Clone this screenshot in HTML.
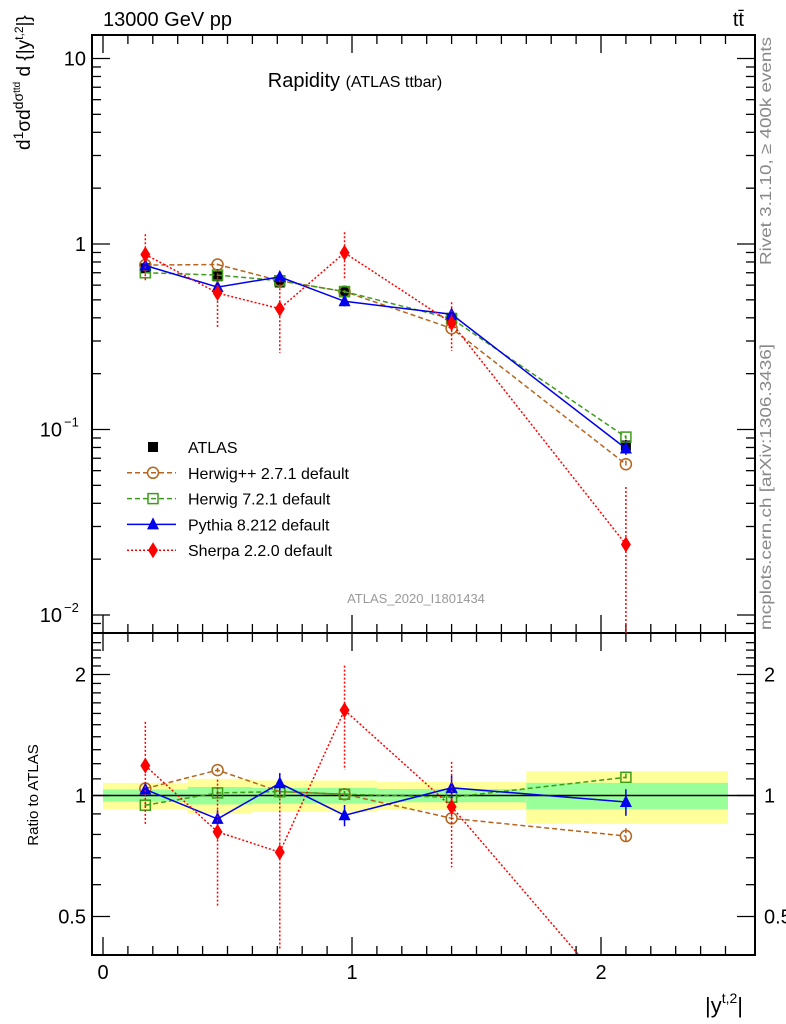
<!DOCTYPE html>
<html><head><meta charset="utf-8"><style>
html,body{margin:0;background:#fff;width:786px;height:1024px;overflow:hidden;}
svg{font-family:"Liberation Sans",sans-serif;display:block;}
</style></head><body>
<svg id="c" width="786" height="1024" xmlns="http://www.w3.org/2000/svg"></svg>
<script>
const xCenters=[0.17,0.46,0.71,0.97,1.4,2.1];
const binEdges=[0,0.34,0.6,0.84,1.1,1.7,2.51];
const atlas=[0.74,0.67,0.62,0.55,0.40,0.082];
const atlasErr=[0.03,0.03,0.03,0.03,0.02,0.006];
const totRelErr=[0.075,0.10,0.09,0.09,0.08,0.15];
const statRelErr=[0.035,0.05,0.045,0.045,0.038,0.075];
const herwigpp=[0.77,0.775,0.634,0.554,0.351,0.065];
const herwigppErr=[0.01,0.01,0.01,0.01,0.01,0.003];
const herwig7=[0.70,0.68,0.634,0.554,0.396,0.091];
const herwig7Err=[0.01,0.01,0.01,0.01,0.01,0.002];
const pythia=[0.766,0.586,0.665,0.491,0.418,0.079];
const pythiaErr=[0.03,0.03,0.04,0.03,0.03,0.006];
const sherpa=[0.878,0.544,0.448,0.897,0.375,0.024];
const sherpaErr=[0.25,0.19,0.19,0.26,0.11,0.025];
const yTickVals=[10,1,0.1,0.01];
const yTickLabels=["10","1","10","10"];
const yTickExp=["","","\u22121","\u22122"];
const rTickVals=[2,1,0.5];
const rTickLabels=["2","1","0.5"];
const xTickVals=[0,1,2];

const svg=document.getElementById('c');
const NS='http://www.w3.org/2000/svg';
const L=92,R=755,T=35,M=633,B=955;
const X=v=>103+v*249;
const Y=v=>244-Math.log10(v)*185.5;
const RY=v=>795.5-Math.log10(v)*402;
function el(tag,attrs,parent){const e=document.createElementNS(NS,tag);for(const k in attrs)e.setAttribute(k,attrs[k]);(parent||svg).appendChild(e);return e;}
function txt(s,attrs,parent){const e=el('text',attrs,parent);e.textContent=s;return e;}

const defs=el('defs',{});
const c1=el('clipPath',{id:'cm'},defs);el('rect',{x:L,y:T,width:R-L,height:M-T},c1);
const c2=el('clipPath',{id:'cr'},defs);el('rect',{x:L,y:M,width:R-L,height:B-M},c2);

const gBand=el('g',{'clip-path':'url(#cr)'});


for(let i=0;i<xCenters.length;i++){
  const x0=X(binEdges[i]),x1=X(binEdges[i+1]);
  const y=el('rect',{x:x0,y:RY(1+totRelErr[i]),width:x1-x0,height:RY(1-totRelErr[i])-RY(1+totRelErr[i]),fill:'#ffff99'},gBand);
  
  
  const g=el('rect',{x:x0,y:RY(1+statRelErr[i]),width:x1-x0,height:RY(1-statRelErr[i])-RY(1+statRelErr[i]),fill:'#99ff99'},gBand);
  
  
}
el('line',{x1:L,x2:R,y1:RY(1),y2:RY(1),stroke:'#000','stroke-width':1.5},gBand);

const fr=el('rect',{x:L,y:T,width:R-L,height:M-T,fill:'none',stroke:'#000','stroke-width':2});

const fr2=el('rect',{x:L,y:M,width:R-L,height:B-M,fill:'none',stroke:'#000','stroke-width':2});


for(let d=-3;d<=1;d++){for(let m=1;m<10;m++){const v=m*Math.pow(10,d);const y=Y(v);if(y<T||y>M)continue;const len=m==1?18:9;
 el('line',{x1:L,x2:L+len,y1:y,y2:y,stroke:'#000','stroke-width':1.3});el('line',{x1:R,x2:R-len,y1:y,y2:y,stroke:'#000','stroke-width':1.3});}}
yTickVals.forEach((v,i)=>{
  const t=txt(yTickLabels[i],{x:yTickExp[i]?62:86,y:Y(v)+7,'font-size':20,'text-anchor':'end'});
  
  if(yTickExp[i]){txt(yTickExp[i],{x:64,y:Y(v)-3,'font-size':13});}
});
for(let v=0.4;v<=2.5;v+=0.1){const y=RY(v);if(y<M||y>B)continue;const major=Math.abs(v-0.5)<1e-6||Math.abs(v-1)<1e-6||Math.abs(v-2)<1e-6;const len=major?18:9;
 el('line',{x1:L,x2:L+len,y1:y,y2:y,stroke:'#000','stroke-width':1.3});el('line',{x1:R,x2:R-len,y1:y,y2:y,stroke:'#000','stroke-width':1.3});}
rTickVals.forEach((v,i)=>{
  const a=txt(rTickLabels[i],{x:86,y:RY(v)+7,'font-size':20,'text-anchor':'end'});
  
  const b=txt(rTickLabels[i],{x:764,y:RY(v)+7,'font-size':20});
  
});
for(let v=0;v<=2.6;v+=0.1){const x=X(v);if(x<L||x>R)continue;const major=Math.abs(v-Math.round(v))<1e-6;const len=major?18:9;
 [T,M].forEach(yy=>el('line',{x1:x,x2:x,y1:yy,y2:yy+len,stroke:'#000','stroke-width':1.3}));
 [M,B].forEach(yy=>el('line',{x1:x,x2:x,y1:yy,y2:yy-len,stroke:'#000','stroke-width':1.3}));}
xTickVals.forEach(v=>{const t=txt(String(v),{x:X(v),y:979,'font-size':20,'text-anchor':'middle'});});

function marker(type,x,y,col,g){
  if(type=='sq')el('rect',{x:x-5,y:y-5,width:10,height:10,fill:'#000'},g);
  else if(type=='circ')el('circle',{cx:x,cy:y,r:5.5,fill:'none',stroke:col,'stroke-width':1.5},g);
  else if(type=='osq')el('rect',{x:x-5,y:y-5,width:10,height:10,fill:'none',stroke:col,'stroke-width':1.5},g);
  else if(type=='tri')el('polygon',{points:`${x},${y-7} ${x-6},${y+5} ${x+6},${y+5}`,fill:col},g);
  else if(type=='dia')el('polygon',{points:`${x},${y-8} ${x-5},${y} ${x},${y+8} ${x+5},${y}`,fill:col},g);
}
const series=[
 {name:'herwigpp',vals:herwigpp,err:herwigppErr,col:'#b5651d',m:'circ',dash:'5,3',w:1.5},
 {name:'herwig7',vals:herwig7,err:herwig7Err,col:'#3d9c1a',m:'osq',dash:'5,3',w:1.5},
 {name:'pythia',vals:pythia,err:pythiaErr,col:'#0000ee',m:'tri',dash:'',w:1.5},
 {name:'sherpa',vals:sherpa,err:sherpaErr,col:'#ff0000',m:'dia',dash:'2,2',w:1.5},
];
const gA=el('g',{'clip-path':'url(#cm)'});

atlas.forEach((v,i)=>{el('line',{x1:X(xCenters[i]),x2:X(xCenters[i]),y1:Y(v+atlasErr[i]),y2:Y(v-atlasErr[i]),stroke:'#000','stroke-width':1.5},gA);marker('sq',X(xCenters[i]),Y(v),'#000',gA);});
series.forEach(s=>{
  const g=el('g',{'clip-path':'url(#cm)'});
  
  el('polyline',{points:s.vals.map((v,i)=>X(xCenters[i])+','+Y(v)).join(' '),fill:'none',stroke:s.col,'stroke-width':s.w,'stroke-dasharray':s.dash},g);
  s.vals.forEach((v,i)=>{const lo=Math.max(v-s.err[i],1e-4);el('line',{x1:X(xCenters[i]),x2:X(xCenters[i]),y1:Y(v+s.err[i]),y2:Y(lo),stroke:s.col,'stroke-width':1.5,'stroke-dasharray':s.dash},g);marker(s.m,X(xCenters[i]),Y(v),s.col,g);});
  const gr=el('g',{'clip-path':'url(#cr)'});
  
  const rv=s.vals.map((v,i)=>v/atlas[i]);
  el('polyline',{points:rv.map((v,i)=>X(xCenters[i])+','+RY(v)).join(' '),fill:'none',stroke:s.col,'stroke-width':s.w,'stroke-dasharray':s.dash},gr);
  rv.forEach((v,i)=>{const y=RY(v);if(y>B||y<M)return;const e=s.err[i]/atlas[i];const lo=Math.max(v-e,1e-3);el('line',{x1:X(xCenters[i]),x2:X(xCenters[i]),y1:RY(v+e),y2:RY(lo),stroke:s.col,'stroke-width':1.5,'stroke-dasharray':s.dash},gr);marker(s.m,X(xCenters[i]),y,s.col,gr);});
});

const leg=[['ATLAS','sq','#000',''],['Herwig++ 2.7.1 default','circ','#b5651d','5,3'],['Herwig 7.2.1 default','osq','#3d9c1a','5,3'],['Pythia 8.212 default','tri','#0000ee',''],['Sherpa 2.2.0 default','dia','#ff0000','2,2']];
leg.forEach((l,i)=>{
  const g=el('g',{});
  
  const y=447+i*25.8;
  if(i>0)el('line',{x1:127,x2:176,y1:y,y2:y,stroke:l[2],'stroke-width':1.5,'stroke-dasharray':l[3]},g);
  marker(l[1],153,y,l[2],g);
  txt(l[0],{x:188,y:y+6,'font-size':16},g);
});

const T1=txt('13000 GeV pp',{x:103,y:26,'font-size':20});
const T2=txt('tt\u0304',{x:744,y:26,'font-size':20,'text-anchor':'end'});
const T3=el('text',{x:355,y:87,'font-size':20,'text-anchor':'middle'});T3.innerHTML='Rapidity <tspan font-size="16">(ATLAS ttbar)</tspan>';
const T4=txt('ATLAS_2020_I1801434',{x:416,y:603,'font-size':13,fill:'#999','text-anchor':'middle'});
const T5=txt('Rivet 3.1.10, \u2265 400k events',{x:0,y:0,'font-size':16,fill:'#888',textLength:228,lengthAdjust:'spacingAndGlyphs',transform:'translate(771,265) rotate(-90)'});
const T6=txt('mcplots.cern.ch [arXiv:1306.3436]',{x:0,y:0,'font-size':16,fill:'#888',textLength:286,lengthAdjust:'spacingAndGlyphs',transform:'translate(771,630) rotate(-90)'});
const T7=el('text',{x:0,y:0,'font-size':19,transform:'translate(30,150) rotate(-90)'});T7.innerHTML='d<tspan font-size="14" dy="-7">1</tspan><tspan dy="7">σ</tspan>d<tspan font-size="14" dy="-7">dσ</tspan><tspan font-size="10" dy="-3">ttd</tspan><tspan dy="10"> d {|y</tspan><tspan font-size="12" dy="-7">t,2</tspan><tspan dy="7">|}</tspan>';
const T8=txt('Ratio to ATLAS',{x:0,y:0,'font-size':15,'text-anchor':'middle',transform:'translate(38,795) rotate(-90)'});
const T9=el('text',{x:743,y:1013,'font-size':22,'text-anchor':'end'});T9.innerHTML='|y<tspan font-size="14" dy="-10">t,2</tspan><tspan dy="10">|</tspan>';
</script>
</body></html>
